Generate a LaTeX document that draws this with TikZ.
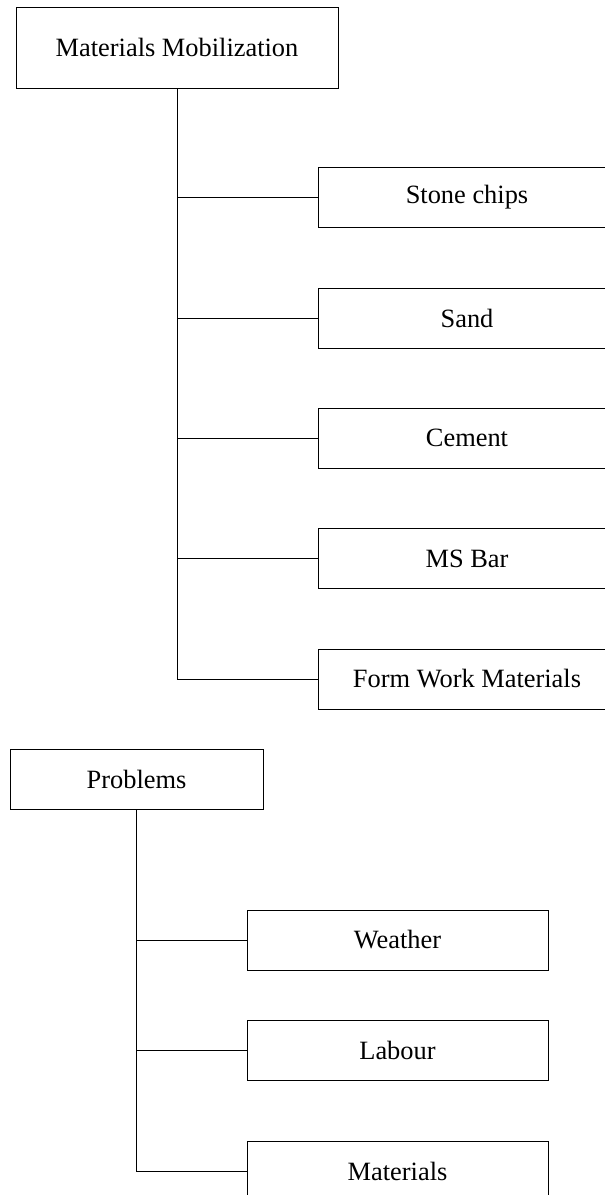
\documentclass[tikz,border=0pt]{standalone}
\usepackage{fontspec}
\setmainfont{Liberation Serif}
\begin{document}
\begin{tikzpicture}[x=1pt,y=-1pt,
  box/.style={draw=black,line width=1pt,inner sep=0pt,minimum height=60pt,
    font=\fontsize{26.4}{30}\selectfont},
  link/.style={draw=black,line width=1pt}]
\useasboundingbox (0,0) rectangle (605,1195);
\clip (0,0) rectangle (605,1195);

% first tree
\node[box,minimum width=322pt,minimum height=81pt] (mm) at (177,47.5) {Materials Mobilization};
\node[box,minimum width=298pt] (sc) at (467,197) {Stone chips};
\node[box,minimum width=298pt] (sd) at (467,318) {Sand};
\node[box,minimum width=298pt] (cm) at (467,438) {Cement};
\node[box,minimum width=298pt] (ms) at (467,558.5) {MS Bar};
\node[box,minimum width=298pt] (fw) at (467,679) {Form Work Materials};

\path[link] (mm.south) |- (fw.west);
\foreach \n in {sc,sd,cm,ms}
  \path[link] (mm.south |- \n.west) -- (\n.west);

% second tree
\node[box,minimum width=253pt] (pb) at (136.5,779) {Problems};
\node[box,minimum width=301pt] (wt) at (397.5,940) {Weather};
\node[box,minimum width=301pt] (lb) at (397.5,1050.5) {Labour};
\node[box,minimum width=301pt] (mt) at (397.5,1171) {Materials};

\path[link] (pb.south) |- (mt.west);
\foreach \n in {wt,lb}
  \path[link] (pb.south |- \n.west) -- (\n.west);
\end{tikzpicture}
\end{document}
